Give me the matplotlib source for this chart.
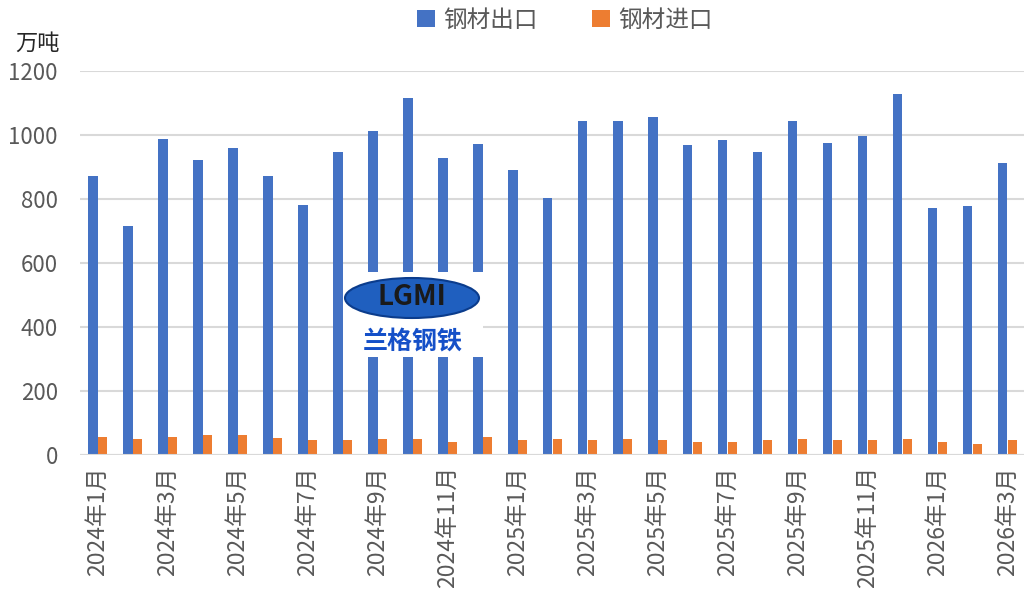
import numpy as np
import matplotlib.pyplot as plt
from matplotlib.patches import Ellipse, Rectangle

plt.rcParams['font.family'] = ['Noto Sans CJK SC', 'DejaVu Sans']

# 月份 (2024年1月 ~ 2026年3月)
months = [f"{y}年{m}月" for y in (2024, 2025, 2026) for m in range(1, 13)][:27]

# 钢材出口 (万吨)
exports = [872, 716, 988, 921, 960, 872, 780, 948, 1011, 1117, 928, 972,
           892, 803, 1044, 1044, 1056, 968, 983, 948, 1044, 976, 997, 1128,
           771, 779, 911]
# 钢材进口 (万吨)
imports = [57, 49, 57, 61, 61, 53, 46, 46, 49, 49, 42, 57,
           46, 49, 46, 49, 46, 42, 42, 46, 49, 46, 46, 49,
           42, 33, 46]

blue = "#4472C4"
orange = "#ED7D31"
grey = "#595959"

fig = plt.figure(figsize=(10.24, 5.95), dpi=100)
ax = fig.add_axes([80 / 1024, 140 / 595, 945 / 1024, 384 / 595])

x = np.arange(len(months))
w = 0.27
ax.bar(x - w / 2, exports, width=w, color=blue, label="钢材出口", zorder=3)
ax.bar(x + w / 2, imports, width=w, color=orange, label="钢材进口", zorder=3)

ax.set_xlim(-0.5, len(months) - 0.5)
ax.set_ylim(0, 1200)
ax.set_yticks(range(0, 1201, 200))
ax.tick_params(axis="y", length=0, pad=16, labelsize=16, labelcolor=grey)
ax.set_xticks(x[::2])
ax.set_xticklabels(months[::2], rotation=90)
ax.tick_params(axis="x", length=0, pad=8, labelsize=16.5, labelcolor=grey)
ax.grid(axis="y", color="#D9D9D9", linewidth=1.5, zorder=0)
for s in ax.spines.values():
    s.set_visible(False)
ax.axhline(0, color="#D9D9D9", linewidth=1.5, zorder=4)

fig.text(15 / 1024, 1 - 43 / 595, "万吨", fontsize=16, color="#262626", va="center")

fig.legend(loc="center", bbox_to_anchor=(565 / 1024, 1 - 20 / 595), ncol=2,
           frameon=False, fontsize=17, labelcolor=grey, handlelength=0.75,
           handleheight=0.75, handletextpad=0.35, columnspacing=2.3)

# 兰格钢铁 水印
fig.patches.append(Rectangle((343 / 1024, 1 - 357 / 595), 140 / 1024, 85 / 595,
                             transform=fig.transFigure, facecolor="white",
                             edgecolor="none", zorder=10))
fig.patches.append(Ellipse((412 / 1024, 1 - 298 / 595), 134 / 1024, 40 / 595,
                           transform=fig.transFigure, facecolor="#1f5fbf",
                           edgecolor="#0b3c8c", linewidth=1.5, zorder=11))
fig.text(412 / 1024, 1 - 297 / 595, "LGMI", fontsize=20, fontweight="bold",
         color="#1a1a1a", ha="center", va="center", zorder=12)
fig.text(413 / 1024, 1 - 343 / 595, "兰格钢铁", fontsize=18, fontweight="bold",
         color="#1550c8", ha="center", va="center", zorder=12)

fig.savefig("out.png", dpi=100)
